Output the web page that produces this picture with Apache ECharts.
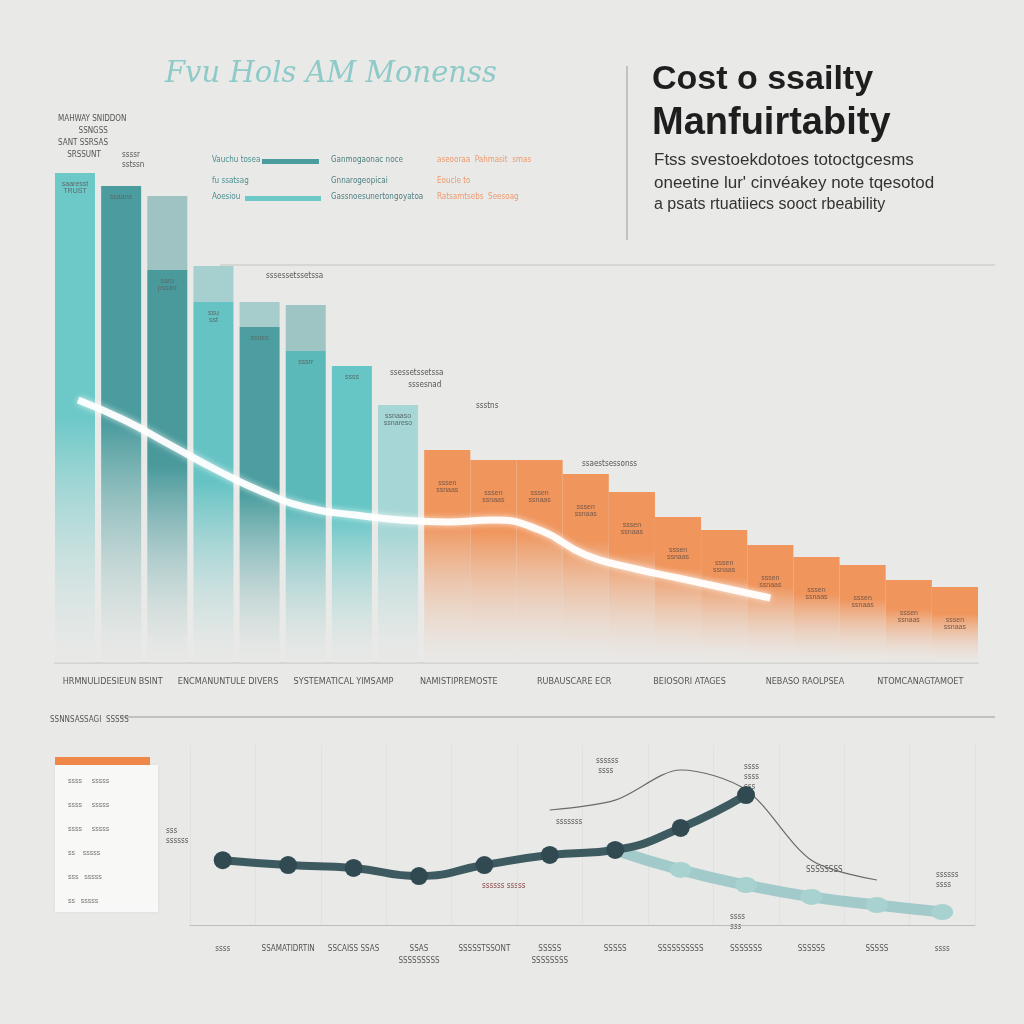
<!DOCTYPE html>
<html><head><meta charset="utf-8">
<script src="https://cdn.jsdelivr.net/npm/echarts@6/dist/echarts.min.js"></script>
<style>html,body{margin:0;padding:0;background:#e9e9e7}#c{width:1024px;height:1024px}</style>
</head><body><div id="c"></div>
<script>
// ---- data ----
const topCategories = ['C1','C2','C3','C4','C5','C6','C7','C8','C9','C10','C11','C12','C13','C14','C15','C16','C17','C18','C19','C20'];
const tealBase = [98, 95.4, 78.6, 72.2, 67.2, 62.4, 59.4, 51.6];
const tealCap  = [0, 0, 14.8, 7.2, 5, 9.2, 0, 0];
const orangeValues = [42.6, 40.6, 40.6, 37.8, 34.2, 29.2, 26.6, 23.6, 21.2, 19.6, 16.6, 15.2];
const trendValues = [52.6, 48.6, 43.6, 38.6, 34.2, 31, 29.6, 28.6, 28.2, 28.6, 26.6, 21.6, 19, 17, 15, 13];
const groupLabels = ['HRMNULIDESIEUN BSINT','ENCMANUNTULE DIVERS','SYSTEMATICAL YIMSAMP','NAMISTIPREMOSTE','RUBAUSCARE ECR','BEIOSORI ATAGES','NEBASO RAOLPSEA','NTOMCANAGTAMOET'];
const barNotes = ['saaresst\nTRUST','ssaane','saro\npssarr','ssu\nsst','ssoes','sssrr','ssss','ssnaaso\nssnareso'];

const bottomCategories = ['ssss','SSAMATIDRTIN','SSCAISS SSAS','SSAS\nSSSSSSSSS','SSSSSTSSONT','SSSSS\nSSSSSSSS','SSSSS','SSSSSSSSSS','SSSSSSS','SSSSSS','SSSSS','ssss'];
const darkLine  = [36, 33.3, 31.7, 27.2, 33.3, 38.9, 41.7, 53.9, 72.2, '-', '-', '-'];
const tealLine  = ['-', '-', '-', '-', '-', '-', 41.7, 30.6, 22.2, 15.6, 11.1, 7.2];
const peakLine  = ['-', '-', '-', '-', '-', 63.9, 69.4, 86.1, 75, 36, 25, '-'];

// ---- build ----
const tealColors = ['#6cc9c8','#4b9c9e','#4a9a9c','#66c3c4','#4c9ea0','#5bb9ba','#66c6c6','#a6d6d5'];
const capColors  = ['#9ccaca','#9ccaca','#9fc3c3','#a6cfcf','#a6cccc','#9ec4c4','#9ec4c4','#9ec4c4'];
function fade(c, stop){return {type:'linear',x:0,y:0,x2:0,y2:1,colorStops:[{offset:0,color:c},{offset:stop,color:c},{offset:1,color:'rgba(233,233,231,0.3)'}]};}
const pad = n => Array(n).fill('-');

const tealBaseData = tealBase.map((v,i)=>({value:v,itemStyle:{color:fade(tealColors[i],0.5)}})).concat(pad(12));
const tealCapData = tealCap.map((v,i)=>({value:v||'-',itemStyle:{color:capColors[i]}})).concat(pad(12));
const orangeData = pad(8).concat(orangeValues.map(v=>({value:v,itemStyle:{color:fade('#f0955c',0.35)}})));
const trendData = trendValues.concat(pad(4));

const chart = echarts.init(document.getElementById('c'));
const txt = (x,y,t,s)=>({type:'text',left:x,top:y,style:Object.assign({text:t,fill:'#555',font:'8px "DejaVu Sans Condensed", sans-serif'},s||{})});

chart.setOption({
  backgroundColor:'#e9e9e7',
  animation:false,
  grid:[
    {left:55,right:46,top:163,bottom:361},
    {left:190,right:49,top:745,bottom:99}
  ],
  xAxis:[
    {type:'category',gridIndex:0,data:topCategories,axisTick:{show:false},axisLabel:{show:false},axisLine:{lineStyle:{color:'#d6d6d4',width:2}}},
    {type:'category',gridIndex:0,data:groupLabels,position:'bottom',axisTick:{show:false},axisLine:{show:false},
      axisLabel:{margin:14,fontSize:9,color:'#555',fontFamily:'DejaVu Sans Condensed',interval:0}},
    {type:'category',gridIndex:1,data:bottomCategories,axisTick:{show:false},boundaryGap:true,
      axisLine:{lineStyle:{color:'#bdbdbb'}},axisLabel:{margin:18,fontSize:8,color:'#555',interval:0,lineHeight:12,fontFamily:'DejaVu Sans Condensed'},
      splitLine:{show:true,lineStyle:{color:'#e1e1df',width:1}}}
  ],
  yAxis:[
    {type:'value',gridIndex:0,min:0,max:100,show:false},
    {type:'value',gridIndex:1,min:0,max:100,show:false}
  ],
  series:[
    {type:'bar',name:'base',xAxisIndex:0,yAxisIndex:0,stack:'t',barWidth:40,data:tealBaseData,
      label:{show:true,position:'insideTop',distance:8,fontSize:7,color:'#5a6b6b',formatter:p=>barNotes[p.dataIndex]||''}},
    {type:'bar',name:'cap',xAxisIndex:0,yAxisIndex:0,stack:'t',barWidth:40,data:tealCapData},
    {type:'bar',name:'orange',xAxisIndex:0,yAxisIndex:0,barWidth:'100%',barGap:'-100%',data:orangeData,
      label:{show:true,position:'insideTop',distance:30,fontSize:7,color:'#7a5a48',formatter:'sssen\nssnaas'}},
    {type:'line',name:'trend',xAxisIndex:0,yAxisIndex:0,smooth:true,symbol:'none',data:trendData,
      lineStyle:{color:'rgba(255,255,255,0.92)',width:7,shadowColor:'rgba(255,255,255,0.8)',shadowBlur:6},z:5},
    {type:'line',name:'peak',xAxisIndex:2,yAxisIndex:1,smooth:0.3,symbol:'none',data:peakLine,
      lineStyle:{color:'#6b6b6b',width:1.2},z:3},
    {type:'line',name:'teal',xAxisIndex:2,yAxisIndex:1,smooth:true,symbol:'circle',symbolSize:[22,16],data:tealLine,
      itemStyle:{color:'#a8d2d0'},lineStyle:{color:'rgba(150,196,196,0.85)',width:11},z:4},
    {type:'line',name:'dark',xAxisIndex:2,yAxisIndex:1,smooth:true,symbol:'circle',symbolSize:18,data:darkLine,
      itemStyle:{color:'#314a52'},lineStyle:{color:'#3d5a60',width:8},z:5}
  ],
  graphic:[
    {type:'text',left:165,top:60,style:{text:'Fvu Hols AM Monenss',fill:'#8ecac8',font:'italic 29px "DejaVu Serif", serif'}},
    {type:'line',shape:{x1:627,y1:66,x2:627,y2:240},style:{stroke:'#b5b5b3',lineWidth:1.5}},
    {type:'text',left:652,top:63,style:{text:'Cost o ssailty',fill:'#1e1e1e',font:'bold 34px "Liberation Sans", Arial, sans-serif'}},
    {type:'text',left:652,top:105,style:{text:'Manfuirtabity',fill:'#1e1e1e',font:'bold 38px "Liberation Sans", Arial, sans-serif'}},
    {type:'text',left:654,top:152,style:{text:'Ftss svestoekdotoes totoctgcesms',fill:'#333',font:'17px "Liberation Sans", Arial, sans-serif'}},
    {type:'text',left:654,top:175,style:{text:'oneetine lur\' cinvéakey note tqesotod',fill:'#333',font:'17px "Liberation Sans", Arial, sans-serif'}},
    {type:'text',left:654,top:197,style:{text:'a psats rtuatiiecs sooct rbeability',fill:'#333',font:'16px "Liberation Sans", Arial, sans-serif'}},
    {type:'line',shape:{x1:220,y1:265,x2:995,y2:265},style:{stroke:'#cfcfcd',lineWidth:1.5}},
    // legend block
    txt(212,156,'Vauchu tosea',{fill:'#4d8f90'}),
    {type:'rect',shape:{x:262,y:159,width:57,height:5},style:{fill:'#4b9c9e'}},
    txt(212,177,'fu ssatsag',{fill:'#4d8f90'}),
    txt(212,193,'Aoesiou',{fill:'#4d8f90'}),
    {type:'rect',shape:{x:245,y:196,width:76,height:5},style:{fill:'#6cc9c8'}},
    txt(331,156,'Ganmogaonac noce',{fill:'#4d7f80'}),
    txt(331,177,'Gnnarogeopicai',{fill:'#4d7f80'}),
    txt(331,193,'Gassnoesunertongoyatoa',{fill:'#4d7f80'}),
    txt(437,156,'aseooraa  Pahmasit  smas',{fill:'#ee9a6d'}),
    txt(437,177,'Eoucle to',{fill:'#ee9a6d'}),
    txt(437,193,'Ratsamtsebs  Seesoag',{fill:'#ee9a6d'}),
    // notes above bars
    txt(58,113,'MAHWAY SNIDDON\n         SSNGSS\nSANT SSRSAS\n    SRSSUNT',{lineHeight:12}),
    txt(122,150,'ssssr\nsstssn',{lineHeight:10}),
    txt(266,272,'sssessetssetssa'),
    txt(390,367,'ssessetssetssa\n        sssesnad',{lineHeight:12}),
    txt(476,402,'ssstns'),
    txt(582,460,'ssaestsessonss'),
    // separator
    {type:'line',shape:{x1:120,y1:717,x2:995,y2:717},style:{stroke:'#9a9a98',lineWidth:1.2}},
    txt(50,716,'SSNNSASSAGI  SSSSS',{fill:'#555'}),
    // left legend box
    {type:'rect',shape:{x:55,y:765,width:103,height:147},style:{fill:'rgba(255,255,255,0.8)',shadowColor:'rgba(0,0,0,0.08)',shadowBlur:4}},
    {type:'rect',shape:{x:55,y:757,width:95,height:8},style:{fill:'#ef8748'}},
    txt(68,775,'ssss     sssss\n\nssss     sssss\n\nssss     sssss\n\nss    sssss\n\nsss   sssss\n\nss   sssss',{lineHeight:12,fill:'#777',font:'7px sans-serif'}),
    // annotations bottom
    txt(596,756,'ssssss\n ssss',{lineHeight:10}),
    txt(744,762,'ssss\nssss\nsss',{lineHeight:10}),
    txt(556,818,'sssssss'),
    txt(806,866,'SSSSSSSS'),
    txt(166,826,'sss\nssssss',{lineHeight:10}),
    txt(482,882,'ssssss sssss',{fill:'#884444'}),
    txt(936,870,'ssssss\nssss',{lineHeight:10}),
    txt(730,912,'ssss\nsss',{lineHeight:10})
  ]
});
</script></body></html>
